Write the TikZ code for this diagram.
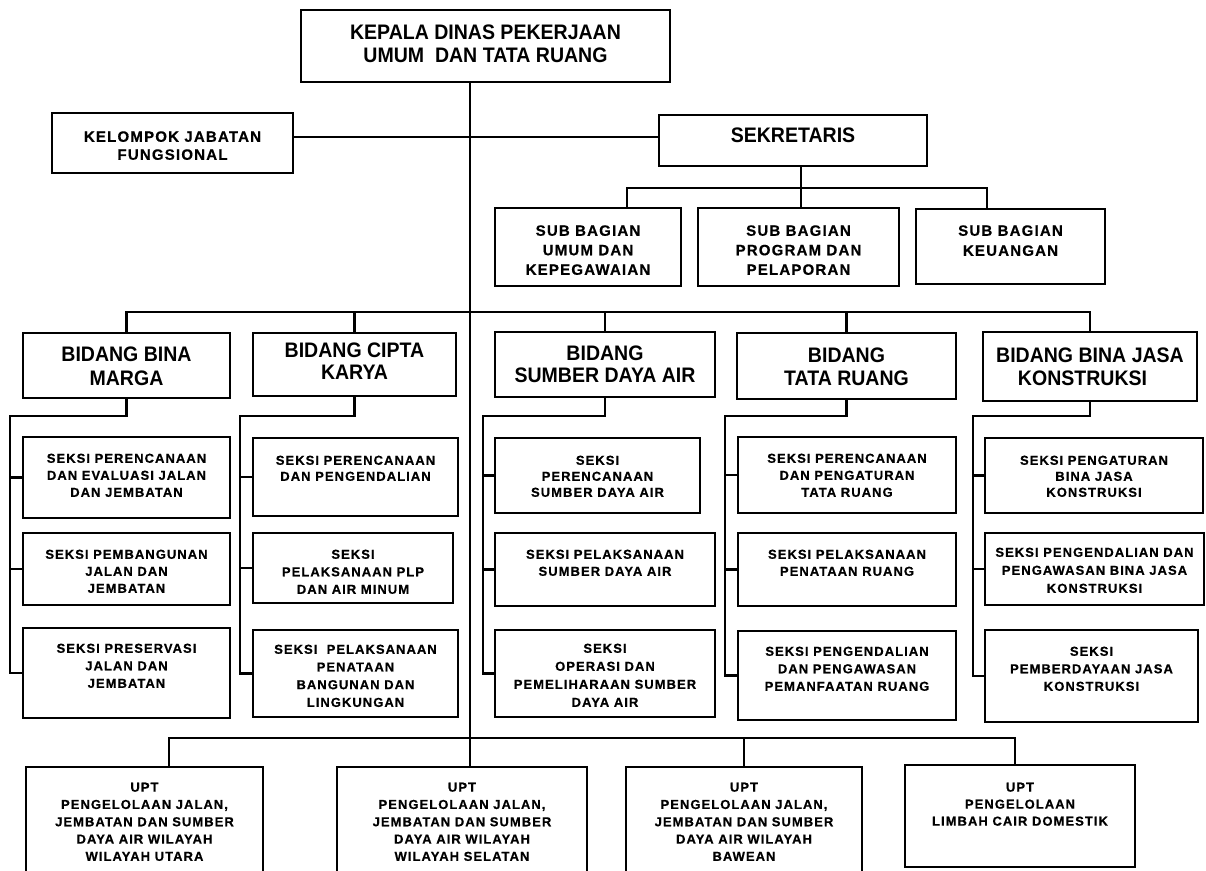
\documentclass[tikz,border=0pt]{standalone}
\usepackage{fontspec}
\newfontfamily\FamBig{Liberation Sans}[FakeStretch=0.93]
\newfontfamily\FamSp{Liberation Sans}[LetterSpace=8,FakeBold=0.6]
\newcommand\FontBig[2]{\FamBig\bfseries\fontsize{#1}{#2}\selectfont}
\newcommand\FontSp[2]{\FamSp\bfseries\fontsize{#1}{#2}\selectfont}
% width, height, top pad, font, text
\newcommand\BoxTxt[5]{\parbox[c][#2pt][t]{#1pt}{\centering\vspace*{#3pt}#4#5\par}}
\begin{document}
\begin{tikzpicture}[x=1pt,y=-1pt,
  box/.style={draw,line width=2.9pt,inner sep=0pt,outer sep=0pt,rectangle},
  conn/.style={line width=2.8pt}]
\useasboundingbox (0,0) rectangle (1206,870);
\clip (0,0) rectangle (1206,870);

% ---------- top level ----------
\node[box] (kepala) at (485.5,46) {\BoxTxt{369}{72}{15}{\FontBig{21}{23}}{KEPALA DINAS PEKERJAAN\\UMUM\ \ DAN TATA RUANG}};
\node[box] (kel) at (172.5,143) {\BoxTxt{241}{60}{18.3}{\FontSp{15}{18}}{KELOMPOK JABATAN\\FUNGSIONAL}};
\node[box] (sek) at (793,140.5) {\BoxTxt{268}{51}{13}{\FontBig{21}{23}}{SEKRETARIS}};

\node[box] (umum) at (588,247) {\BoxTxt{186}{78}{17.3}{\FontSp{15}{19.5}}{SUB BAGIAN\\UMUM DAN\\KEPEGAWAIAN}};
\node[box] (prog) at (798.5,247) {\BoxTxt{201}{78}{17.3}{\FontSp{15}{19.5}}{SUB BAGIAN\\PROGRAM DAN\\PELAPORAN}};
\node[box] (keu) at (1010.5,246.5) {\BoxTxt{189}{75}{16.3}{\FontSp{15}{20}}{SUB BAGIAN\\KEUANGAN}};

% ---------- bidang ----------
\node[box] (bm) at (126.5,365.5) {\BoxTxt{207}{65}{14}{\FontBig{21}{24}}{BIDANG BINA\\MARGA}};
\node[box] (ck) at (354.5,364.5) {\BoxTxt{203}{63}{10}{\FontBig{21}{22}}{BIDANG CIPTA\\KARYA}};
\node[box] (sda) at (605,364.5) {\BoxTxt{220}{65}{14}{\FontBig{21}{22}}{BIDANG\\SUMBER DAYA AIR}};
\node[box] (tr) at (846.5,366) {\BoxTxt{219}{66}{15}{\FontBig{21}{23}}{BIDANG\\TATA RUANG}};
\node[box] (bjk) at (1090,366.5) {\BoxTxt{214}{69}{16}{\FontBig{21}{23}}{BIDANG BINA JASA\\KONSTRUKSI\hspace*{15pt}}};

% ---------- seksi: bina marga ----------
\node[box] (bm1) at (126.5,477.5) {\BoxTxt{207}{81}{16.7}{\FontSp{13}{17}}{SEKSI PERENCANAAN\\DAN EVALUASI JALAN\\DAN JEMBATAN}};
\node[box] (bm2) at (126.5,569) {\BoxTxt{207}{72}{16.7}{\FontSp{13}{17}}{SEKSI PEMBANGUNAN\\JALAN DAN\\JEMBATAN}};
\node[box] (bm3) at (126.5,673) {\BoxTxt{207}{90}{15.7}{\FontSp{13}{17.5}}{SEKSI PRESERVASI\\JALAN DAN\\JEMBATAN}};

% ---------- seksi: cipta karya ----------
\node[box] (ck1) at (355.5,477) {\BoxTxt{205}{78}{17.7}{\FontSp{13}{16}}{SEKSI PERENCANAAN\\DAN PENGENDALIAN}};
\node[box] (ck2) at (353,568) {\BoxTxt{200}{70}{16.7}{\FontSp{13}{17.5}}{SEKSI\\PELAKSANAAN PLP\\DAN AIR MINUM}};
\node[box] (ck3) at (355.5,673.5) {\BoxTxt{205}{87}{14.7}{\FontSp{13}{17.7}}{SEKSI\ \ PELAKSANAAN\\PENATAAN\\BANGUNAN DAN\\LINGKUNGAN}};

% ---------- seksi: sumber daya air ----------
\node[box] (sda1) at (597.5,475.5) {\BoxTxt{205}{75}{17.7}{\FontSp{13}{16}}{SEKSI\\PERENCANAAN\\SUMBER DAYA AIR}};
\node[box] (sda2) at (605,569.5) {\BoxTxt{220}{73}{16.7}{\FontSp{13}{17}}{SEKSI PELAKSANAAN\\SUMBER DAYA AIR}};
\node[box] (sda3) at (605,673.5) {\BoxTxt{220}{87}{13.7}{\FontSp{13}{18}}{SEKSI\\OPERASI DAN\\PEMELIHARAAN SUMBER\\DAYA AIR}};

% ---------- seksi: tata ruang ----------
\node[box] (tr1) at (847,475) {\BoxTxt{218}{76}{16.7}{\FontSp{13}{17}}{SEKSI PERENCANAAN\\DAN PENGATURAN\\TATA RUANG}};
\node[box] (tr2) at (847,569.5) {\BoxTxt{218}{73}{16.7}{\FontSp{13}{17}}{SEKSI PELAKSANAAN\\PENATAAN RUANG}};
\node[box] (tr3) at (847,675.5) {\BoxTxt{218}{89}{15.7}{\FontSp{13}{17.5}}{SEKSI PENGENDALIAN\\DAN PENGAWASAN\\PEMANFAATAN RUANG}};

% ---------- seksi: bina jasa konstruksi ----------
\node[box] (bjk1) at (1094,475.5) {\BoxTxt{218}{75}{17.7}{\FontSp{13}{16}}{SEKSI PENGATURAN\\BINA JASA\\KONSTRUKSI}};
\node[box] (bjk2) at (1094.5,569) {\BoxTxt{219}{72}{14.7}{\FontSp{13}{18}}{SEKSI PENGENDALIAN DAN\\PENGAWASAN BINA JASA\\KONSTRUKSI}};
\node[box] (bjk3) at (1091.5,676) {\BoxTxt{213}{92}{16.7}{\FontSp{13}{17.5}}{SEKSI\\PEMBERDAYAAN JASA\\KONSTRUKSI}};

% ---------- UPT ----------
\node[box] (upt1) at (144.5,821.5) {\BoxTxt{237}{109}{15.7}{\FontSp{13}{17.3}}{UPT\\PENGELOLAAN JALAN,\\JEMBATAN DAN SUMBER\\DAYA AIR WILAYAH\\WILAYAH UTARA}};
\node[box] (upt2) at (462,821.5) {\BoxTxt{250}{109}{15.7}{\FontSp{13}{17.3}}{UPT\\PENGELOLAAN JALAN,\\JEMBATAN DAN SUMBER\\DAYA AIR WILAYAH\\WILAYAH SELATAN}};
\node[box] (upt3) at (744,821.5) {\BoxTxt{236}{109}{15.7}{\FontSp{13}{17.3}}{UPT\\PENGELOLAAN JALAN,\\JEMBATAN DAN SUMBER\\DAYA AIR WILAYAH\\BAWEAN}};
\node[box] (upt4) at (1020,816) {\BoxTxt{230}{102}{17.7}{\FontSp{13}{17}}{UPT\\PENGELOLAAN\\LIMBAH CAIR DOMESTIK}};

% ---------- helper coordinates ----------
\coordinate (trunk) at (470,0);
\coordinate (hl) at (0,137);
\coordinate (sbus) at (801,188);
\coordinate (ux) at (627,0);
\coordinate (kx) at (987,0);
\coordinate (mbus) at (0,312);
\coordinate (elb) at (0,416);
\coordinate (bmx) at (10,0);
\coordinate (ckx) at (240,0);
\coordinate (sdax) at (483,0);
\coordinate (trx) at (725,0);
\coordinate (bjkx) at (973,0);
\coordinate (ubus) at (0,738);
\coordinate (u1x) at (169,0);
\coordinate (u4x) at (1015,0);

% ---------- connectors ----------
\draw[conn] (kepala.south -| trunk) -- (upt2.north -| trunk);
\draw[conn] (kel.east |- hl) -- (sek.west |- hl);

\draw[conn] (sek.south -| sbus) -- (prog.north -| sbus);
\draw[conn] (umum.north -| ux) |- (sbus) -| (keu.north -| kx);

\draw[conn] (bm.north) |- (mbus -| bjk.north) -- (bjk.north);
\foreach \b in {ck,sda,tr} \draw[conn] (\b.north) -- (\b.north |- mbus);

\draw[conn] (bm.south) |- (elb -| bmx) |- (bm3.west);
\draw[conn] (bm1.west -| bmx) -- (bm1.west);
\draw[conn] (bm2.west -| bmx) -- (bm2.west);

\draw[conn] (ck.south) |- (elb -| ckx) |- (ck3.west);
\draw[conn] (ck1.west -| ckx) -- (ck1.west);
\draw[conn] (ck2.west -| ckx) -- (ck2.west);

\draw[conn] (sda.south) |- (elb -| sdax) |- (sda3.west);
\draw[conn] (sda1.west -| sdax) -- (sda1.west);
\draw[conn] (sda2.west -| sdax) -- (sda2.west);

\draw[conn] (tr.south) |- (elb -| trx) |- (tr3.west);
\draw[conn] (tr1.west -| trx) -- (tr1.west);
\draw[conn] (tr2.west -| trx) -- (tr2.west);

\draw[conn] (bjk.south) |- (elb -| bjkx) |- (bjk3.west);
\draw[conn] (bjk1.west -| bjkx) -- (bjk1.west);
\draw[conn] (bjk2.west -| bjkx) -- (bjk2.west);

\draw[conn] (upt1.north -| u1x) |- (ubus -| u4x) -- (upt4.north -| u4x);
\draw[conn] (upt3.north) -- (upt3.north |- ubus);
\end{tikzpicture}
\end{document}
